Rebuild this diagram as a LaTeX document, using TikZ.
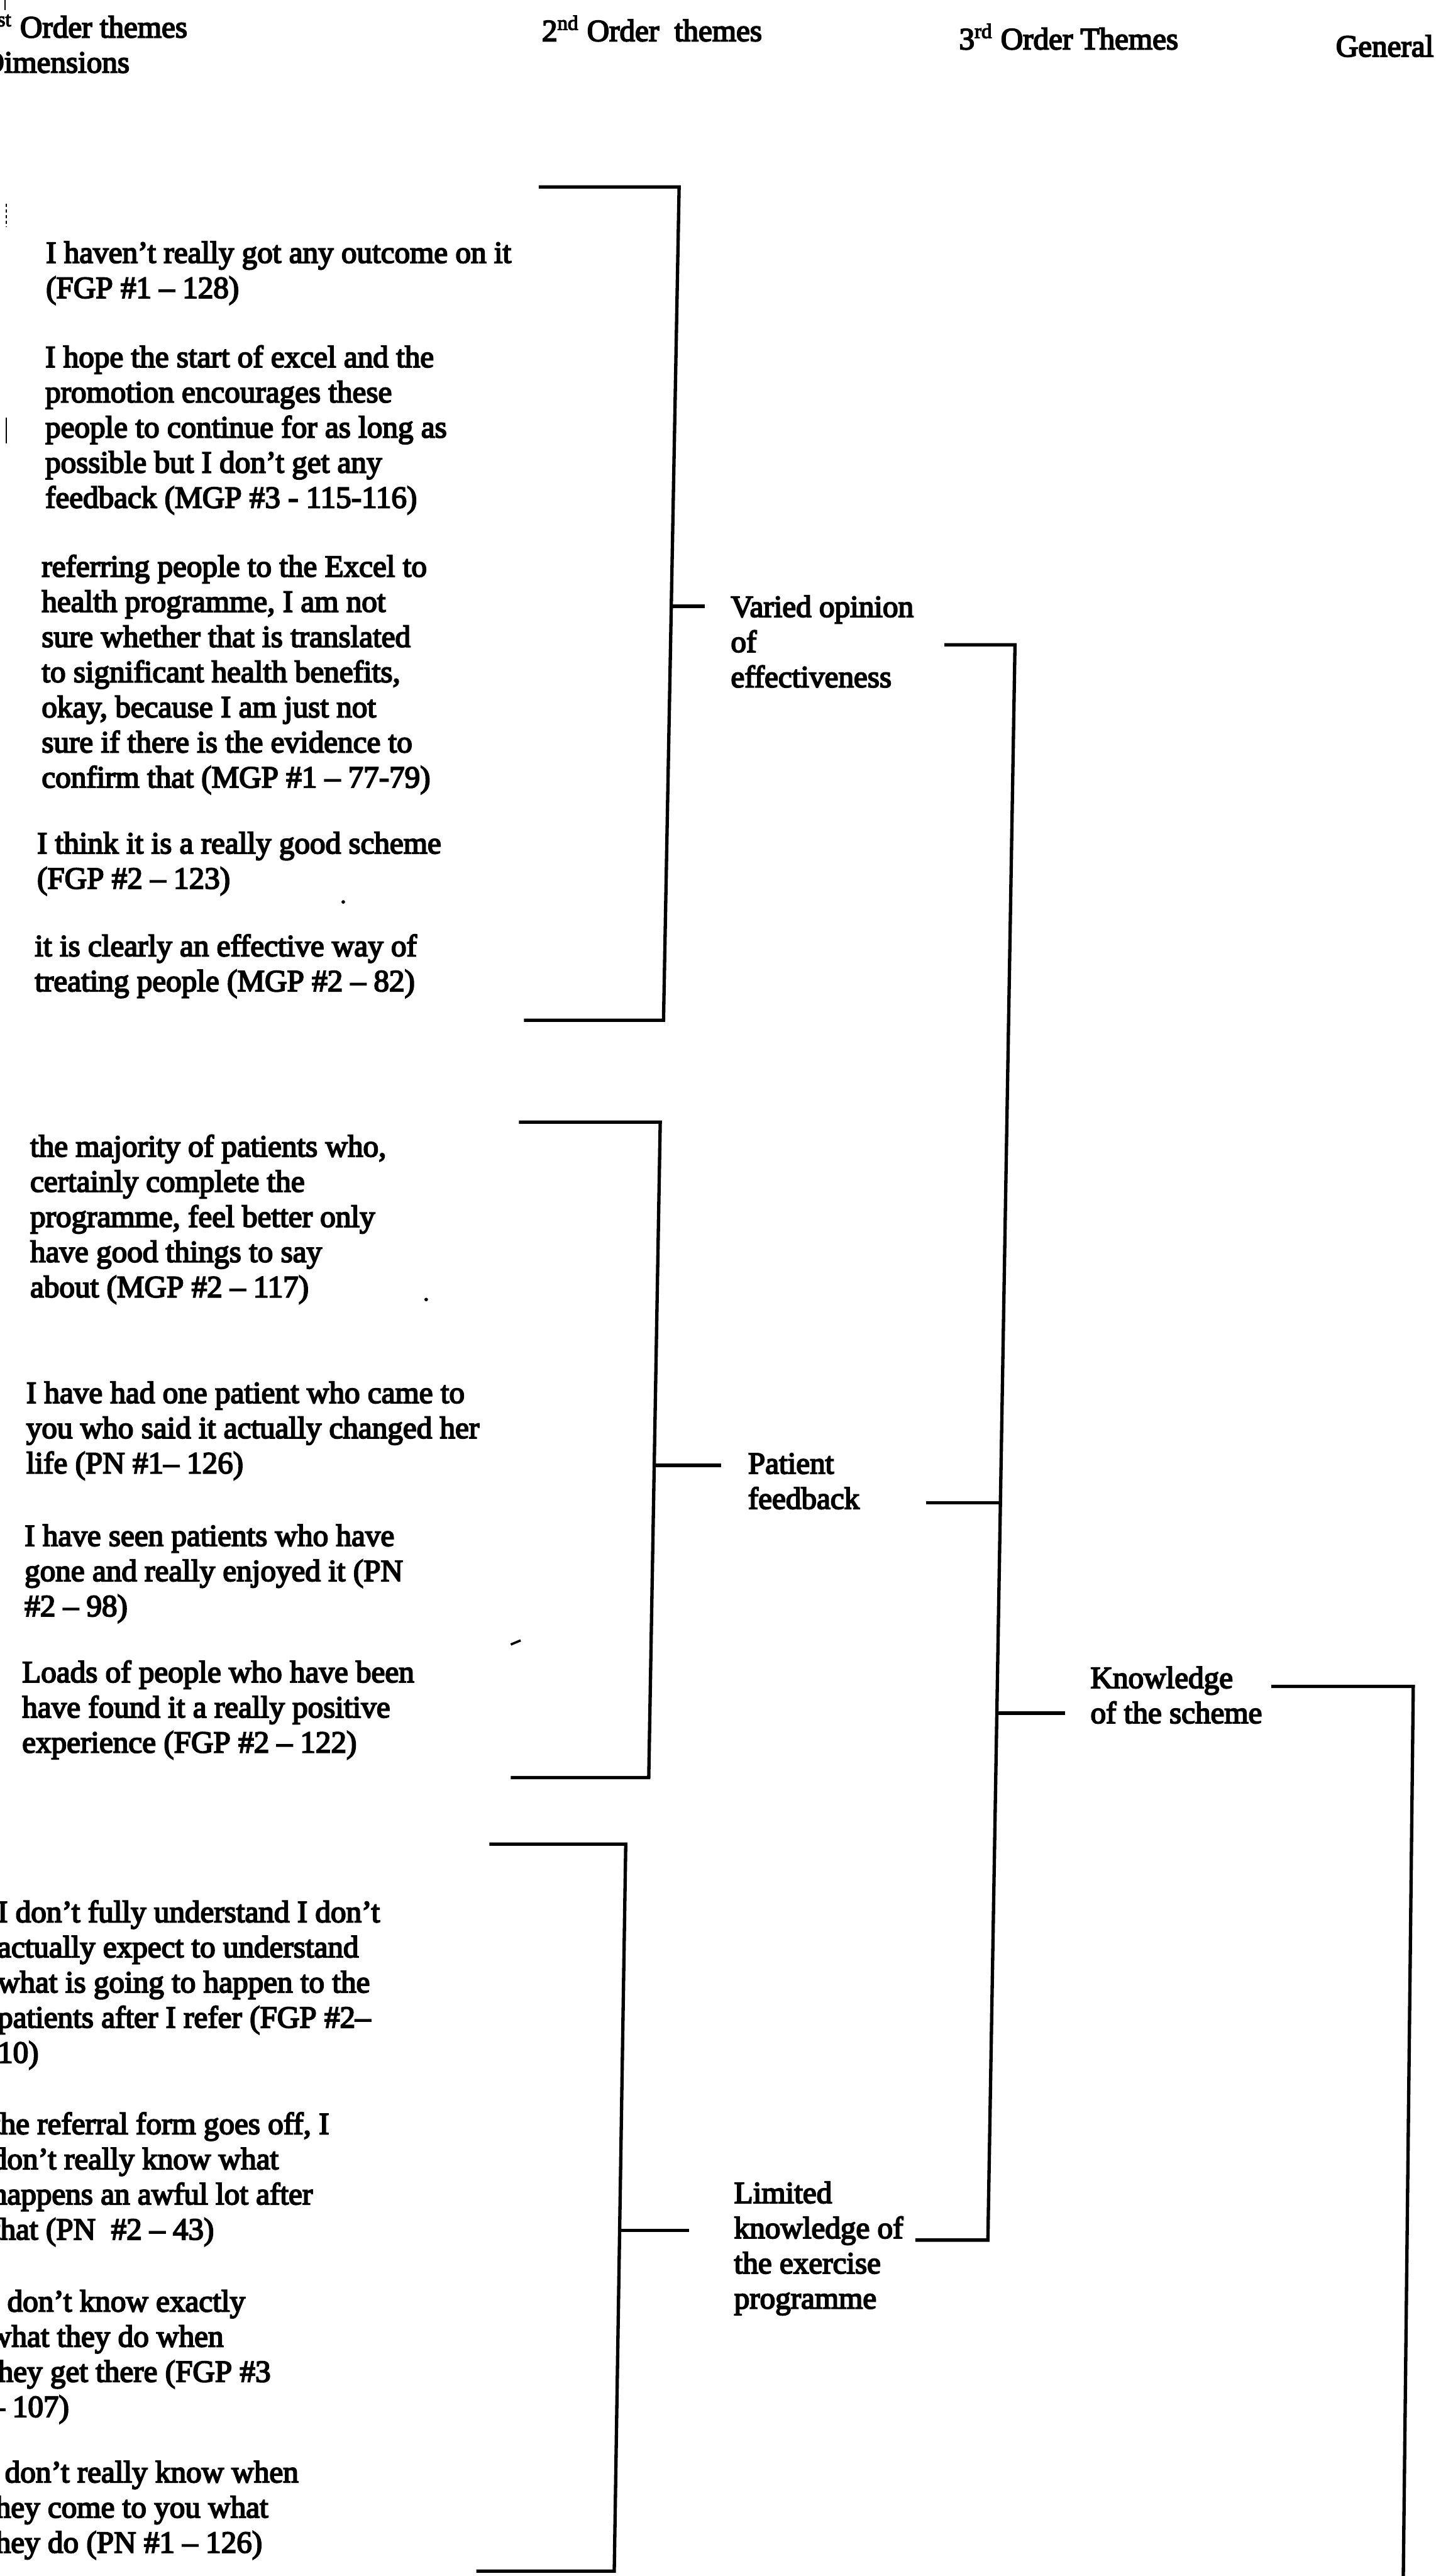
\documentclass[tikz,border=0pt]{standalone}
\usepackage{fontspec}
\setmainfont{Liberation Serif}
\newfontfamily\scanfont{Liberation Serif}[FakeBold=4]
\newcommand\qfont{\scanfont\fontsize{12}{13.65}\selectfont}
\newcommand\lns[1]{\begin{tabular}[t]{@{}l@{}}#1\end{tabular}}
\begin{document}
\begin{tikzpicture}[x=0.638pt, y=-0.638pt,
  txt/.style={inner sep=0pt, outer sep=0pt, anchor=base west, font=\qfont},
  rule/.style={line width=1.3pt, line cap=butt, line join=miter},
  speck/.style={line width=0.5pt}]
\fill[white] (0,0) rectangle (874,1568);
\useasboundingbox (0,0) rectangle (874,1568);
\clip (0,0) rectangle (874,1568);

% column headings
\node[txt] (h1) at (-11, 22.8) {\lns{1\textsuperscript{st} Order themes\\Dimensions}};
\node[txt] (h2) at (330, 25) {2\textsuperscript{nd} Order~~themes};
\node[txt] (h3) at (584, 30) {3\textsuperscript{rd} Order Themes};
\node[txt] (h4) at (813.4, 34.4) {General};

% quotations, first group
\node[txt] (q11) at (28, 160) {\lns{I haven’t really got any outcome on it\\(FGP \#1 – 128)}};
\node[txt] (q12) at (27.6, 223.5) {\lns{I hope the start of excel and the\\promotion encourages these\\people to continue for as long as\\possible but I don’t get any\\feedback (MGP \#3 - 115-116)}};
\node[txt] (q13) at (25.4, 351) {\lns{referring people to the Excel to\\health programme, I am not\\sure whether that is translated\\to significant health benefits,\\okay, because I am just not\\sure if there is the evidence to\\confirm that (MGP \#1 – 77-79)}};
\node[txt] (q14) at (22.6, 519.5) {\lns{I think it is a really good scheme\\(FGP \#2 – 123)}};
\node[txt] (q15) at (21.2, 582) {\lns{it is clearly an effective way of\\treating people (MGP \#2 – 82)}};

% quotations, second group
\node[txt] (q21) at (18.4, 704) {\lns{the majority of patients who,\\certainly complete the\\programme, feel better only\\have good things to say\\about (MGP \#2 – 117)}};
\node[txt] (q22) at (16, 854) {\lns{I have had one patient who came to\\you who said it actually changed her\\life (PN \#1– 126)}};
\node[txt] (q23) at (15, 941) {\lns{I have seen patients who have\\gone and really enjoyed it (PN\\\#2 – 98)}};
\node[txt] (q24) at (13.5, 1024) {\lns{Loads of people who have been\\have found it a really positive\\experience (FGP \#2 – 122)}};

% quotations, third group
\node[txt] (q31) at (-1.5, 1170) {\lns{I don’t fully understand I don’t\\actually expect to understand\\what is going to happen to the\\patients after I refer (FGP \#2–\\10)}};
\node[txt] (q32) at (-5, 1299) {\lns{the referral form goes off, I\\don’t really know what\\happens an awful lot after\\that (PN~~\#2 – 43)}};
\node[txt] (q33) at (-6.5, 1407) {\lns{I don’t know exactly\\what they do when\\they get there (FGP \#3\\– 107)}};
\node[txt] (q34) at (-8, 1511) {\lns{I don’t really know when\\they come to you what\\they do (PN \#1 – 126)}};

% second and third order themes
\node[txt] (t1) at (445, 375.5) {\lns{Varied opinion\\of\\effectiveness}};
\node[txt] (t2) at (455.5, 897) {\lns{Patient\\feedback}};
\node[txt] (t3) at (447, 1341) {\lns{Limited\\knowledge of\\the exercise\\programme}};
\node[txt] (k1) at (664, 1027.5) {\lns{Knowledge\\of the scheme}};

% bracket joining the first group
\coordinate (g1tl) at (328, 113.8);
\coordinate (g1tr) at (413.5, 113.8);
\coordinate (g1br) at (404, 621);
\coordinate (g1bl) at (319, 621);
\coordinate (g1m) at (408.7, 369);
\coordinate (g1e) at (429, 369);
\draw[rule] (g1tl) -- (g1tr) -- (g1br) -- (g1bl);
\draw[rule] (g1m) -- (g1e);

% bracket joining the second group
\coordinate (g2tl) at (316, 683);
\coordinate (g2tr) at (402, 683);
\coordinate (g2br) at (395, 1082);
\coordinate (g2bl) at (311, 1082);
\coordinate (g2m) at (398.3, 892);
\coordinate (g2e) at (439, 892);
\draw[rule] (g2tl) -- (g2tr) -- (g2br) -- (g2bl);
\draw[rule] (g2m) -- (g2e);

% bracket joining the third group
\coordinate (g3tl) at (298, 1122.5);
\coordinate (g3tr) at (381, 1122.5);
\coordinate (g3br) at (374, 1565);
\coordinate (g3bl) at (290, 1565);
\coordinate (g3m) at (377.3, 1357.5);
\coordinate (g3e) at (419.5, 1357.5);
\draw[rule] (g3tl) -- (g3tr) -- (g3br) -- (g3bl);
\draw[rule] (g3m) -- (g3e);

% bracket joining the second order themes
\coordinate (c1s) at (575, 392.5);
\coordinate (c1tr) at (618, 392.5);
\coordinate (c1br) at (601.5, 1363.5);
\coordinate (c1e) at (557.3, 1363.5);
\coordinate (c1f) at (563.8, 914.8);
\coordinate (c1fm) at (609.1, 914.8);
\coordinate (c1m) at (607, 1042.8);
\coordinate (c1k) at (648.6, 1042.8);
\draw[rule] (c1s) -- (c1tr) -- (c1br) -- (c1e);
\draw[rule] (c1f) -- (c1fm);
\draw[rule] (c1m) -- (c1k);

% line leading on from the third order theme
\coordinate (c2s) at (774, 1026.5);
\coordinate (c2tr) at (860.5, 1026.5);
\coordinate (c2b) at (854.3, 1580);
\draw[rule] (c2s) -- (c2tr) -- (c2b);

% stray marks on the page
\draw[speck] (3, 0) -- (3, 6);
\draw[speck, dash pattern=on 1.2pt off 1pt] (4, 124) -- (4, 138);
\draw[speck] (4, 254) -- (4, 270);
\fill (209, 549) circle (1.1);
\fill (259.5, 791) circle (1.1);
\draw[line width=0.9pt] (311, 1001) -- (317, 998.5);
\end{tikzpicture}
\end{document}
